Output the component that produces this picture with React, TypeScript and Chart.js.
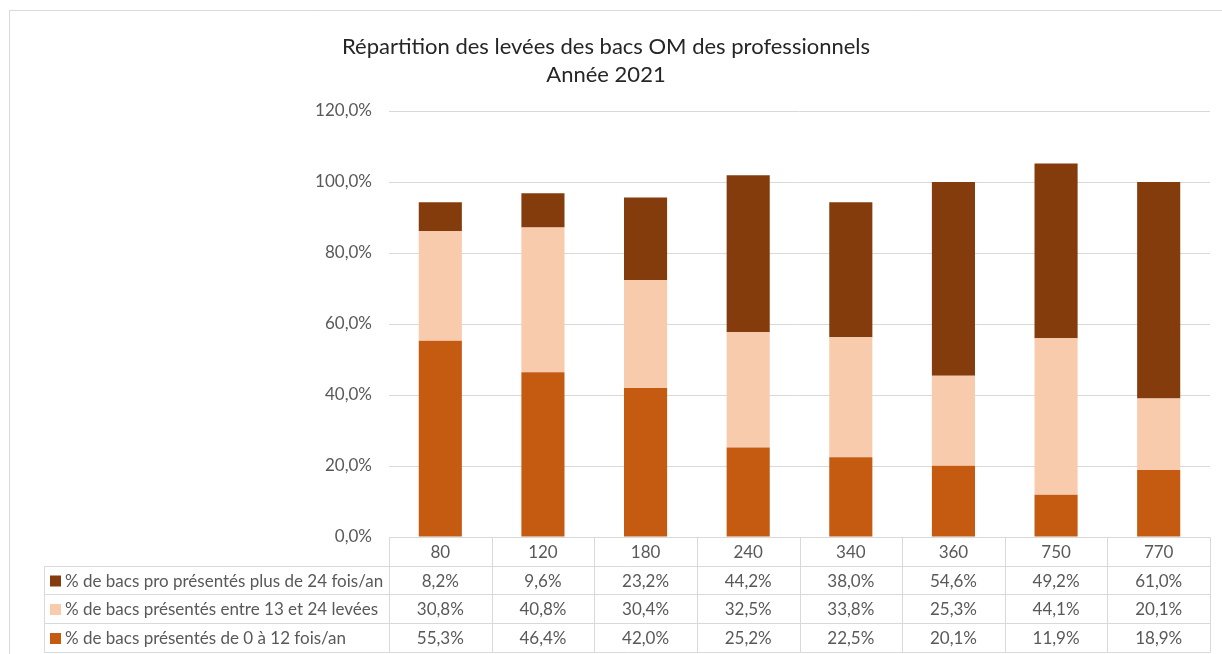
import React, { useEffect, useRef } from "react";
import { Chart, registerables } from "chart.js";

Chart.register(...registerables);

const categories = ["80", "120", "180", "240", "340", "360", "750", "770"];
const seriesLabels = [
  "% de bacs pro présentés plus de 24 fois/an",
  "% de bacs présentés entre 13 et 24 levées",
  "% de bacs présentés de 0 à 12 fois/an",
];
const plus24 = [8.2, 9.6, 23.2, 44.2, 38.0, 54.6, 49.2, 61.0];
const entre13et24 = [30.8, 40.8, 30.4, 32.5, 33.8, 25.3, 44.1, 20.1];
const de0a12 = [55.3, 46.4, 42.0, 25.2, 22.5, 20.1, 11.9, 18.9];
const yTicks = [0, 20, 40, 60, 80, 100, 120];
const titleLines = ["Répartition des levées des bacs OM des professionnels", "Année 2021"];

const colors = ["#843C0C", "#F8CBAD", "#C55A11"];
const FONT = "Lato, 'Liberation Sans', sans-serif";
const fmt = (v: number) => v.toFixed(1).replace(".", ",") + "%";

const tablePlugin = {
  id: "tablePlugin",
  beforeDraw(chart: any) {
    const ctx = chart.ctx;
    ctx.save();
    ctx.fillStyle = "#ffffff";
    ctx.fillRect(0, 0, chart.width, chart.height);
    ctx.strokeStyle = "#d9d9d9";
    ctx.lineWidth = 1;
    ctx.beginPath();
    ctx.moveTo(9.5, 10);
    ctx.lineTo(9.5, chart.height);
    ctx.moveTo(9, 10.5);
    ctx.lineTo(chart.width, 10.5);
    ctx.stroke();
    // title
    ctx.fillStyle = "#262626";
    ctx.font = `22px ${FONT}`;
    ctx.textAlign = "center";
    ctx.textBaseline = "middle";
    ctx.fillText(titleLines[0], 606, 47);
    ctx.fillText(titleLines[1], 606, 75);
    ctx.restore();
  },
  afterDraw(chart: any) {
    const ctx = chart.ctx;
    const xs = chart.scales.x;
    const area = chart.chartArea;
    const n = categories.length;
    const colW = (area.right - area.left) / n;
    const rowTops = [537.5, 566.5, 594.5, 623.5, 652.5];
    const tableLeft = 44.5;
    const right = Math.round(area.right) + 0.5;
    const left = Math.round(area.left) + 0.5;
    ctx.save();
    ctx.strokeStyle = "#d9d9d9";
    ctx.lineWidth = 1;
    ctx.beginPath();
    ctx.moveTo(left, rowTops[0]);
    ctx.lineTo(right, rowTops[0]);
    for (let r = 1; r < rowTops.length; r++) {
      ctx.moveTo(tableLeft, rowTops[r]);
      ctx.lineTo(right, rowTops[r]);
    }
    ctx.moveTo(tableLeft, rowTops[1]);
    ctx.lineTo(tableLeft, rowTops[4]);
    for (let i = 0; i <= n; i++) {
      const x = Math.round(area.left + i * colW) + 0.5;
      ctx.moveTo(x, rowTops[0]);
      ctx.lineTo(x, rowTops[4]);
    }
    ctx.stroke();

    ctx.fillStyle = "#595959";
    ctx.font = `17px ${FONT}`;
    ctx.textAlign = "center";
    ctx.textBaseline = "middle";
    const rows = [plus24, entre13et24, de0a12];
    categories.forEach((c, i) => {
      const cx = xs.getPixelForValue(i);
      ctx.fillText(c, cx, (rowTops[0] + rowTops[1]) / 2 + 1);
      rows.forEach((vals, r) => {
        ctx.fillText(fmt(vals[i]), cx, (rowTops[r + 1] + rowTops[r + 2]) / 2 + 1);
      });
    });
    ctx.textAlign = "left";
    seriesLabels.forEach((lab, r) => {
      const cy = (rowTops[r + 1] + rowTops[r + 2]) / 2;
      ctx.fillStyle = colors[r];
      ctx.fillRect(50, cy - 5, 11, 11);
      ctx.fillStyle = "#595959";
      ctx.fillText(lab, 65, cy + 1);
    });
    ctx.restore();
  },
};

export default function App() {
  const ref = useRef<HTMLCanvasElement | null>(null);
  useEffect(() => {
    if (!ref.current) return;
    const chart = new Chart(ref.current, {
      type: "bar",
      data: {
        labels: categories,
        datasets: [
          { label: seriesLabels[2], data: de0a12, backgroundColor: colors[2] },
          { label: seriesLabels[1], data: entre13et24, backgroundColor: colors[1] },
          { label: seriesLabels[0], data: plus24, backgroundColor: colors[0] },
        ],
      },
      options: {
        responsive: false,
        animation: false,
        layout: { padding: { left: 0, top: 111, right: 12, bottom: 117 } },
        datasets: { bar: { categoryPercentage: 1, barPercentage: 0.42, borderWidth: 0 } },
        plugins: {
          legend: { display: false },
          title: { display: false },
          tooltip: { enabled: false },
        },
        scales: {
          x: { stacked: true, display: false },
          y: {
            stacked: true,
            min: 0,
            max: 120,
            afterFit: (s: any) => { s.width = 389; },
            afterBuildTicks: (s: any) => { s.ticks = yTicks.map((v) => ({ value: v })); },
            border: { display: false },
            grid: { color: "#d9d9d9", drawTicks: false, lineWidth: 1 },
            ticks: {
              padding: 17,
              color: "#595959",
              font: { family: FONT, size: 17 },
              callback: (v: any) => fmt(Number(v)),
            },
          },
        },
      },
      plugins: [tablePlugin],
    });
    return () => chart.destroy();
  }, []);
  return (
    <div style={{ position: "fixed", left: 0, top: 0, width: 1222, height: 654, background: "#fff" }}>
      <canvas ref={ref} width={1222} height={654} />
    </div>
  );
}
